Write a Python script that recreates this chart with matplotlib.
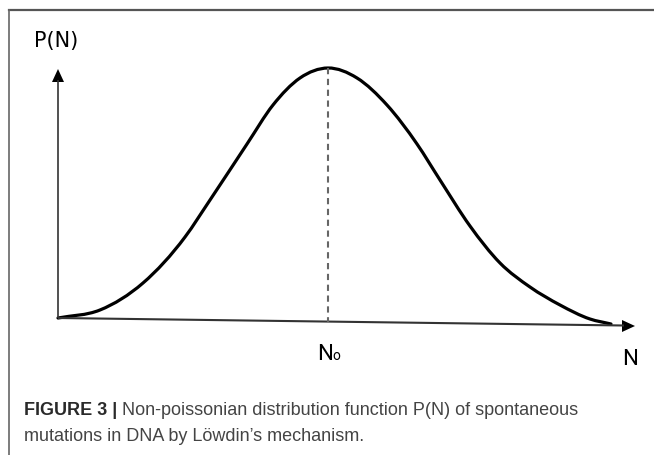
import numpy as np
import matplotlib
matplotlib.use('Agg')
import matplotlib.pyplot as plt
from matplotlib.path import Path
from matplotlib.patches import PathPatch, Polygon

# ---- data ----
N_vals = [0, 7.59, 15.37, 22.97, 27.49, 34.18, 38.88, 43.76, 48.82,
          54.07, 59.49, 64.92, 69.08, 74.50, 79.93, 85.35, 90.78, 96.20, 100]
P_vals = [0, 0.032, 0.14, 0.324, 0.472, 0.696, 0.852, 0.96, 1.0,
          0.96, 0.852, 0.696, 0.552, 0.368, 0.22, 0.124, 0.052, -0.004, -0.024]
N0 = 48.82
y_label = 'P(N)'
x_label = 'N'
peak_label = 'N'
peak_sub = 'o'
caption_bold = 'FIGURE 3 |'
caption_rest1 = ' Non-poissonian distribution function P(N) of spontaneous'
caption_line2 = 'mutations in DNA by Löwdin\u2019s mechanism.'

W, H = 654, 455
fig = plt.figure(figsize=(W / 100, H / 100), dpi=100)
ax = fig.add_axes([0, 0, 1, 1])
X0, Y0 = 58, 318
SX, SY = 5.53, 250.0
ax.set_xlim(-X0 / SX, (W - X0) / SX)
ax.set_ylim(-(H - Y0) / SY, Y0 / SY)
ax.axis('off')


def d(xp, yp):
    return ((xp - X0) / SX, (Y0 - yp) / SY)


def fx(xp):
    return xp / W


def fy(yp):
    return 1 - yp / H


# frame lines (top and left)
fig.add_artist(plt.Line2D([fx(9), fx(654)], [fy(10), fy(10)], color='#555555', lw=1.6))
fig.add_artist(plt.Line2D([fx(9), fx(9)], [fy(10), fy(455)], color='#666666', lw=1.2))

# y axis with arrow
ya, yb = d(58, 318), d(58, 80)
ax.plot([ya[0], yb[0]], [ya[1], yb[1]], color='#333333', lw=1.2, solid_capstyle='butt')
ax.add_patch(Polygon([d(58, 69), d(52, 82), d(64, 82)], closed=True, color='black', lw=0))

# x axis (slightly sloped) with arrow
xa, xb = d(58, 318), d(624, 325.5)
ax.plot([xa[0], xb[0]], [xa[1], xb[1]], color='#333333', lw=1.5, solid_capstyle='butt')
ax.add_patch(Polygon([d(635, 326), d(622, 320), d(622, 332)], closed=True, color='black', lw=0))

# dashed line at N0
peak_P = max(P_vals)
ax.plot([N0, N0], [peak_P, d(328, 322)[1]], color='#666666', lw=1.5,
        dashes=(3, 2.2))

# smooth curve through the read points (cubic Hermite -> Bezier)
x = np.asarray(N_vals, float)
y = np.asarray(P_vals, float)
h = np.diff(x)
s = np.diff(y) / h
m = np.empty_like(x)
m[0] = s[0]
m[-1] = s[-1]
m[1:-1] = (h[:-1] * s[1:] + h[1:] * s[:-1]) / (h[:-1] + h[1:])
verts = [(x[0], y[0])]
codes = [Path.MOVETO]
for i in range(len(x) - 1):
    verts += [(x[i] + h[i] / 3, y[i] + m[i] * h[i] / 3),
              (x[i + 1] - h[i] / 3, y[i + 1] - m[i + 1] * h[i] / 3),
              (x[i + 1], y[i + 1])]
    codes += [Path.CURVE4] * 3
ax.add_patch(PathPatch(Path(verts, codes), fill=False, edgecolor='black', lw=2.3,
                       capstyle='round', joinstyle='round'))

# labels
fig.text(fx(56), fy(47), y_label, ha='center', va='baseline', fontsize=15,
         family='DejaVu Sans', color='black')
fig.text(fx(317), fy(360), peak_label, ha='left', va='baseline', fontsize=16,
         family='Roboto', color='black')
fig.text(fx(332.5), fy(360), peak_sub, ha='left', va='baseline', fontsize=10,
         family='Roboto', color='black')
fig.text(fx(622), fy(365), x_label, ha='left', va='baseline', fontsize=16,
         family='Roboto', color='black')

# caption
t1 = fig.text(fx(24), fy(415), caption_bold, ha='left', va='baseline', fontsize=13,
              family='Liberation Sans', weight='bold', color='#2a2a2a')
fig.canvas.draw()
bb = t1.get_window_extent()
fig.text(bb.x1 / W, fy(415), caption_rest1, ha='left', va='baseline', fontsize=13,
         family='Liberation Sans', color='#444444')
fig.text(fx(24), fy(441), caption_line2, ha='left', va='baseline', fontsize=13,
         family='Liberation Sans', color='#444444')

fig.savefig('out.png', dpi=100)
